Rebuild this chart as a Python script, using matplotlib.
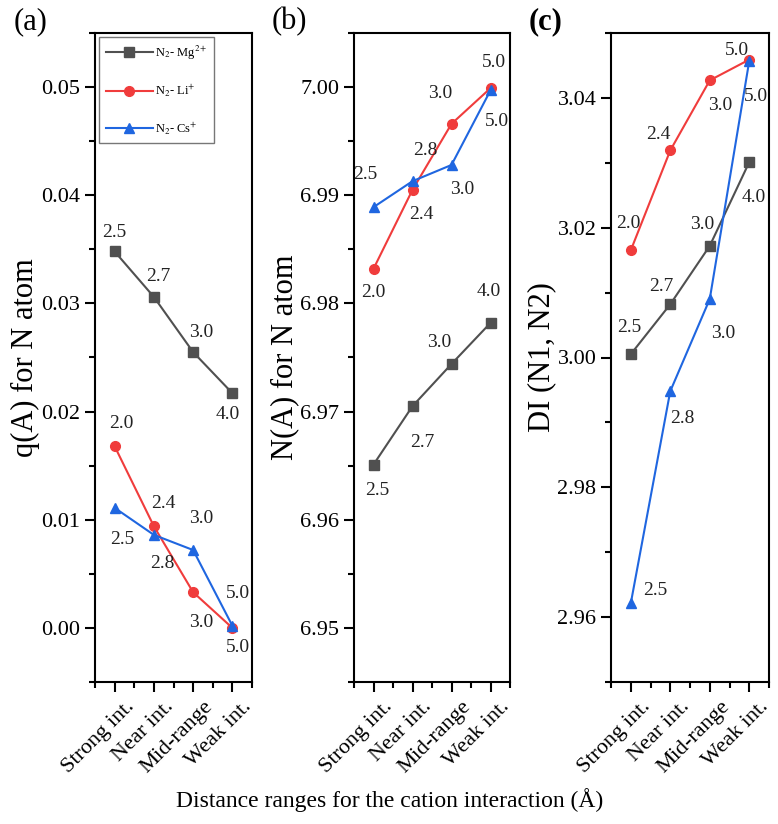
import numpy as np
import matplotlib.pyplot as plt
from matplotlib.ticker import MultipleLocator
from matplotlib.transforms import ScaledTranslation

""" q(A), N(A) and DI for N2 - cation complexes """

plt.rcParams['font.family'] = ['Liberation Serif', 'DejaVu Serif']
plt.rcParams['mathtext.fontset'] = 'stix'

categories = ['Strong int.', 'Near int.', 'Mid-range', 'Weak int.']
series_names = [r'N$_2$- Mg$^{2+}$', r'N$_2$- Li$^{+}$', r'N$_2$- Cs$^{+}$']

# (a) q(A)
qA_mg = [0.0348, 0.0306, 0.0255, 0.0217]
qA_li = [0.0168, 0.0094, 0.0033, 0.0000]
qA_cs = [0.0111, 0.0086, 0.0072, 0.0002]
# (b) N(A)
NA_mg = [6.9651, 6.9705, 6.9744, 6.9782]
NA_li = [6.9832, 6.9905, 6.9966, 6.9999]
NA_cs = [6.9889, 6.9913, 6.9928, 6.9997]
# (c) DI(N1,N2)
DI_mg = [3.0005, 3.0082, 3.0172, 3.0301]
DI_li = [3.0165, 3.0319, 3.0427, 3.0459]
DI_cs = [2.9621, 2.9948, 3.0090, 3.0457]

# distance labels at each point
lab_mg = ['2.5', '2.7', '3.0', '4.0']
lab_li = ['2.0', '2.4', '3.0', '5.0']
lab_cs = ['2.5', '2.8', '3.0', '5.0']

colors = ['#505050', '#f03c3c', '#1f66e0']
markers = ['s', 'o', '^']

# label offsets (pixels) per panel, per series
offs_a = [[(0, 19), (4, 20), (8, 20), (-5, -21)],
          [(7, 23), (9, 23), (8, -30), (6, -20)],
          [(8, -32), (8, -29), (8, 32), (6, 32)]]
offs_b = [[(4, -26), (10, -36), (-12, 21), (-2, 31)],
          [(0, -24), (9, -25), (-11, 30), (3, 26)],
          [(-8, 33), (13, 31), (11, -25), (6, -31)]]
offs_c = [[(-1, 27), (-9, 18), (-8, 21), (4, -35)],
          [(-2, 27), (-12, 16), (10, -25), (-12, 9)],
          [(25, 13), (12, -27), (13, -34), (7, -36)]]

fig = plt.figure(figsize=(7.78, 8.24), dpi=100)
H = 824.0
W = 778.0
ax_a = fig.add_axes([95/W, 1-682/H, 157/W, 649/H])
ax_b = fig.add_axes([354/W, 1-682/H, 156/W, 649/H])
ax_c = fig.add_axes([611/W, 1-682/H, 158/W, 649/H])

x = np.arange(len(categories))

panels = [
    (ax_a, [qA_mg, qA_li, qA_cs], offs_a, (-0.005, 0.055), 0.01, 0.005, 'q(A) for N atom', '(a)'),
    (ax_b, [NA_mg, NA_li, NA_cs], offs_b, (6.945, 7.005), 0.01, 0.005, 'N(A) for N atom', '(b)'),
    (ax_c, [DI_mg, DI_li, DI_cs], offs_c, (2.95, 3.05), 0.02, 0.01, 'DI (N1, N2)', '(c)'),
]
labs = [lab_mg, lab_li, lab_cs]
shift = ScaledTranslation(10/100, 0, fig.dpi_scale_trans)

for ax, data, offs, ylim, major, minor, ylab, tag in panels:
    for k in range(3):
        ax.plot(x, data[k], color=colors[k], marker=markers[k], markersize=7,
                linewidth=1.5, label=series_names[k])
        for i in range(4):
            ax.annotate(labs[k][i], (x[i], data[k][i]), textcoords='offset pixels',
                        xytext=offs[k][i], ha='center', va='center', fontsize=14,
                        color='#222222')
    ax.set_xlim(-0.5, 3.5)
    ax.set_ylim(*ylim)
    ax.yaxis.set_major_locator(MultipleLocator(major))
    ax.yaxis.set_minor_locator(MultipleLocator(minor))
    ax.yaxis.set_major_formatter(plt.FormatStrFormatter('%.2f'))
    ax.set_xticks(x)
    ax.set_xticks(np.arange(-0.5, 3.6, 1.0), minor=True)
    ax.tick_params(axis='both', which='major', direction='out', length=7, width=1.5,
                   labelsize=16)
    ax.tick_params(axis='both', which='minor', direction='out', length=4, width=1.5)
    ax.tick_params(axis='x', which='major', pad=4)
    ax.set_xticklabels(categories, rotation=45, ha='right', va='top',
                       rotation_mode='anchor', fontsize=16)
    for t in ax.get_xticklabels():
        t.set_transform(t.get_transform() + shift)
    for sp in ax.spines.values():
        sp.set_linewidth(1.5)
    ax.set_ylabel(ylab, fontsize=22, labelpad=1)
    ax.text(-0.5, 1.0, tag, transform=ax.transAxes, fontsize=22,
            fontweight='bold' if tag == '(c)' else 'normal', va='center', ha='left')

ax_a.texts[-1].set_position((-0.52, 1.017))
ax_b.texts[-1].set_position((-0.53, 1.017))
ax_c.texts[-1].set_position((-0.52, 1.017))

leg = ax_a.legend(loc='upper left', fontsize=9, handlelength=3.8, labelspacing=1.7,
                  frameon=True, fancybox=False, borderaxespad=0.35, borderpad=0.5,
                  handletextpad=0.15)
leg.get_frame().set_edgecolor('#555555')
leg.get_frame().set_linewidth(1.0)

fig.text(390/W, 1-800/H, 'Distance ranges for the cation interaction (Å)',
         ha='center', va='center', fontsize=17)

plt.savefig('out.png', dpi=100)
